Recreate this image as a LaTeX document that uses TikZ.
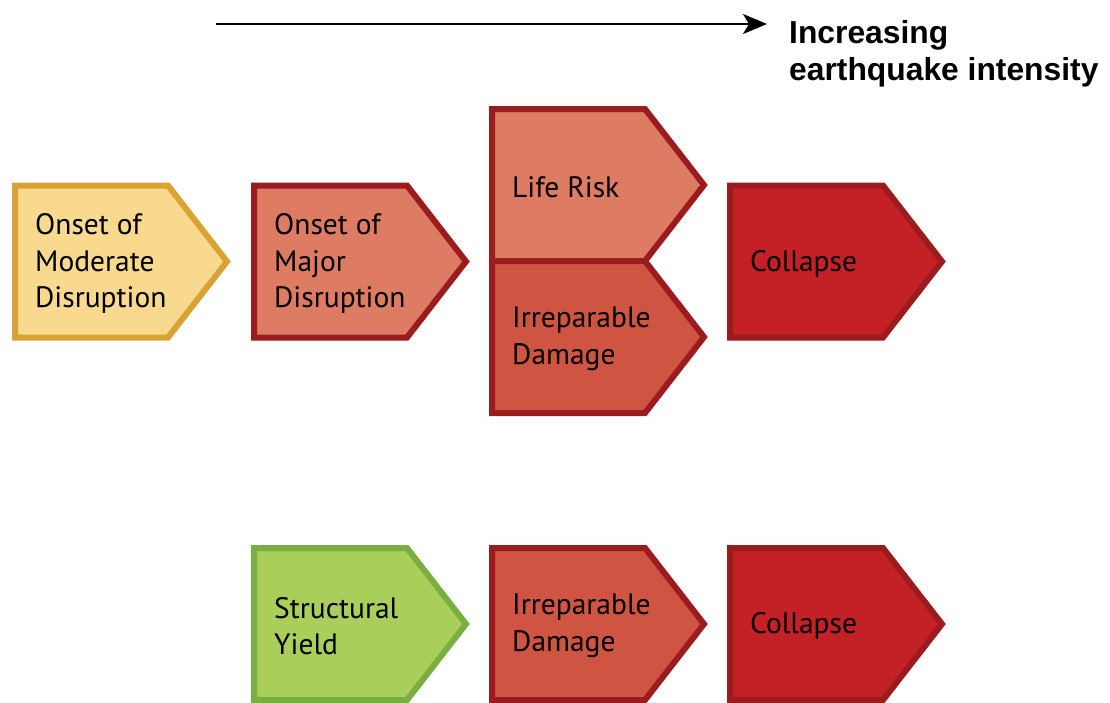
\documentclass[tikz,border=0pt]{standalone}
\usepackage{fontspec}
\setmainfont{PT Sans}
\newfontfamily\headfont{Liberation Sans}
\usetikzlibrary{arrows.meta}

\definecolor{goldfill}{HTML}{F9D98E}
\definecolor{golddraw}{HTML}{D8A235}
\definecolor{salmonfill}{HTML}{DD7B63}
\definecolor{brickfill}{HTML}{CF5441}
\definecolor{redfill}{HTML}{C42127}
\definecolor{reddraw}{HTML}{9B1C1F}
\definecolor{greenfill}{HTML}{A9CF5A}
\definecolor{greendraw}{HTML}{7AAE42}

% pentagon "chevron" box: name, left x, top y, style, text
\newcommand\chevron[5]{%
  \draw[chev,#4] (#2,#3) -- ++(153,0) -- ++(59,76) -- ++(-59,76) -- ++(-153,0) -- cycle;
  \node[boxtext] (#1) at ({#2+20},{#3+78}) {#5};
}

\tikzset{
  chev/.style={line width=6pt, line join=miter, miter limit=10},
  moderate/.style={fill=goldfill, draw=golddraw},
  major/.style={fill=salmonfill, draw=reddraw},
  damage/.style={fill=brickfill, draw=reddraw},
  collapse/.style={fill=redfill, draw=reddraw},
  yield/.style={fill=greenfill, draw=greendraw},
  boxtext/.style={anchor=west, inner sep=0pt, align=left,
    font=\fontsize{29.5}{36.5}\selectfont},
}

\begin{document}
\begin{tikzpicture}[x=1pt, y=-1pt]
  \useasboundingbox (0,0) rectangle (1110,702);

  % intensity arrow and heading
  \coordinate (a0) at (216,24);
  \coordinate (a1) at (767,24);
  \draw[line width=2pt, -{Stealth[length=24pt, width=20pt, inset=6pt]}] (a0) -- (a1);
  \node[anchor=base west, inner sep=0pt, align=left,
        font=\headfont\bfseries\fontsize{31.8}{37}\selectfont] (head) at (789,80)
        {Increasing\\earthquake intensity};

  % upper row
  \chevron{modr}{15}{185.5}{moderate}{Onset of\\Moderate\\Disruption}
  \chevron{majr}{254}{185.5}{major}{Onset of\\Major\\Disruption}
  \chevron{life}{492}{109}{major}{Life Risk}
  \chevron{irr1}{492}{261}{damage}{Irreparable\\Damage}
  \chevron{col1}{730}{185.5}{collapse}{Collapse}

  % lower row
  \chevron{yld}{254}{548}{yield}{Structural\\Yield}
  \chevron{irr2}{492}{548}{damage}{Irreparable\\Damage}
  \chevron{col2}{730}{548}{collapse}{Collapse}
\end{tikzpicture}
\end{document}
